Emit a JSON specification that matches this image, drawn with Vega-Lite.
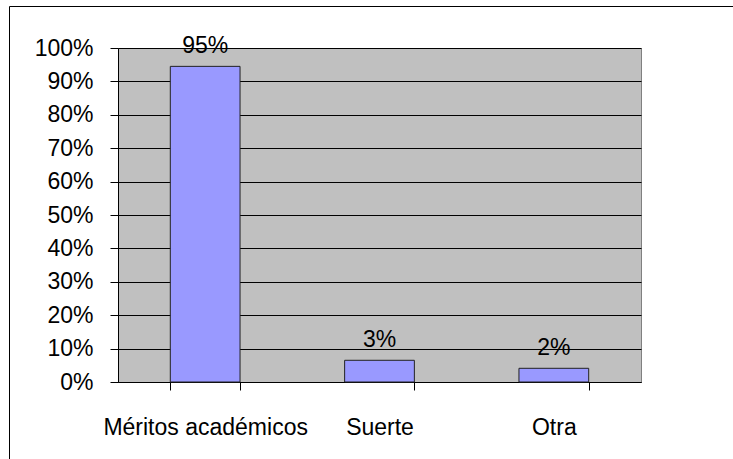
{
  "$schema": "https://vega.github.io/schema/vega-lite/v6.json",
  "width": 523,
  "height": 334,
  "autosize": {"type": "none"},
  "padding": {"left": 118, "top": 48, "right": 92, "bottom": 77},
  "background": "white",
  "data": {
    "values": [
      {"categoria": "Méritos académicos", "valor": 0.945, "etiqueta": "95%"},
      {"categoria": "Suerte", "valor": 0.065, "etiqueta": "3%"},
      {"categoria": "Otra", "valor": 0.041, "etiqueta": "2%"}
    ]
  },
  "encoding": {
    "x": {
      "field": "categoria",
      "type": "nominal",
      "sort": null,
      "scale": {"paddingInner": 0.6, "paddingOuter": 0.3},
      "axis": {
        "title": null,
        "labelAngle": 0,
        "labelLimit": 0,
        "tickBand": "extent",
        "tickSize": 8,
        "labelPadding": 26,
        "domainColor": "black",
        "tickColor": "black",
        "labelFont": "Liberation Sans",
        "labelFontSize": 23,
        "labelColor": "black",
        "grid": false
      }
    },
    "y": {
      "field": "valor",
      "type": "quantitative",
      "scale": {"domain": [0, 1], "nice": false},
      "axis": {
        "title": null,
        "format": ".0%",
        "values": [0, 0.1, 0.2, 0.3, 0.4, 0.5, 0.6, 0.7, 0.8, 0.9, 1],
        "tickSize": 8,
        "labelPadding": 17,
        "grid": true,
        "gridColor": "black",
        "gridOpacity": 1,
        "domainColor": "black",
        "tickColor": "black",
        "labelFont": "Liberation Sans",
        "labelFontSize": 23,
        "labelColor": "black"
      }
    }
  },
  "layer": [
    {
      "mark": {"type": "bar", "fill": "#9999FF", "stroke": "#222222", "strokeWidth": 1},
      "encoding": {
        "color": {
          "datum": "Serie1",
          "scale": {"range": ["#9999FF"]},
          "legend": {
            "orient": "none",
            "legendX": -109,
            "legendY": -42,
            "strokeColor": "black",
            "padding": 400,
            "title": null,
            "symbolOpacity": 0,
            "labelColor": "transparent",
            "encode": {"legend": {"update": {"strokeWidth": {"value": 2}}}}
          }
        }
      }
    },
    {
      "mark": {"type": "text", "baseline": "alphabetic", "dy": -13, "font": "Liberation Sans", "fontSize": 23, "color": "black"},
      "encoding": {"text": {"field": "etiqueta"}}
    }
  ],
  "config": {"view": {"fill": "#C0C0C0", "stroke": "#808080"}}
}
